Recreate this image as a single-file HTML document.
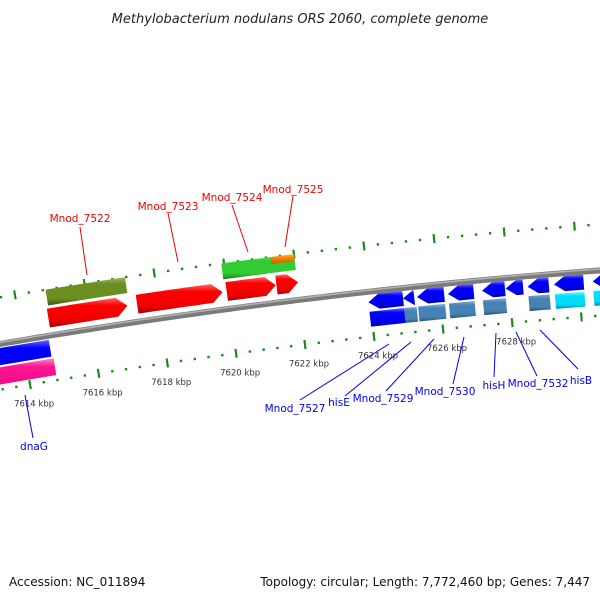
<!DOCTYPE html>
<html><head><meta charset="utf-8"><style>
html,body{margin:0;padding:0;background:#fff;}
svg{display:block;font-family:"DejaVu Sans","Liberation Sans",sans-serif;}
</style></head><body>
<svg id="map" width="600" height="600" viewBox="0 0 600 600">
<defs>
<linearGradient id="gred" x1="0" y1="0" x2="0" y2="1"><stop offset="0" stop-color="#ff6a6a"/><stop offset="0.25" stop-color="#ff0000"/><stop offset="0.75" stop-color="#f00000"/><stop offset="1" stop-color="#a00000"/></linearGradient>
<linearGradient id="golive" x1="0" y1="0" x2="0" y2="1"><stop offset="0" stop-color="#9ab85a"/><stop offset="0.25" stop-color="#6b8e23"/><stop offset="0.75" stop-color="#6b8e23"/><stop offset="1" stop-color="#3f5510"/></linearGradient>
<linearGradient id="ggreen" x1="0" y1="0" x2="0" y2="1"><stop offset="0" stop-color="#7ee87e"/><stop offset="0.25" stop-color="#33cc33"/><stop offset="0.75" stop-color="#33cc33"/><stop offset="1" stop-color="#1d7d1d"/></linearGradient>
<linearGradient id="gorange" x1="0" y1="0" x2="0" y2="1"><stop offset="0" stop-color="#ffb060"/><stop offset="0.3" stop-color="#ff8c00"/><stop offset="1" stop-color="#c06000"/></linearGradient>
<linearGradient id="gblue" x1="0" y1="0" x2="0" y2="1"><stop offset="0" stop-color="#6a6aff"/><stop offset="0.25" stop-color="#0000ff"/><stop offset="0.75" stop-color="#0000f0"/><stop offset="1" stop-color="#00009a"/></linearGradient>
<linearGradient id="gsteel" x1="0" y1="0" x2="0" y2="1"><stop offset="0" stop-color="#8ab0d4"/><stop offset="0.25" stop-color="#4682b4"/><stop offset="0.75" stop-color="#4682b4"/><stop offset="1" stop-color="#2a5070"/></linearGradient>
<linearGradient id="gcyan" x1="0" y1="0" x2="0" y2="1"><stop offset="0" stop-color="#8af4ff"/><stop offset="0.25" stop-color="#00e0ff"/><stop offset="0.75" stop-color="#00d8f8"/><stop offset="1" stop-color="#0090a8"/></linearGradient>
<linearGradient id="gpink" x1="0" y1="0" x2="0" y2="1"><stop offset="0" stop-color="#ff88c4"/><stop offset="0.25" stop-color="#ff1493"/><stop offset="0.75" stop-color="#f01088"/><stop offset="1" stop-color="#a00058"/></linearGradient>
</defs>
<text x="300" y="23" text-anchor="middle" font-size="13" font-style="italic" fill="#222">Methylobacterium nodulans ORS 2060, complete genome</text>
<g id="ticks"></g>
<g id="backbone"></g>
<g id="genes"></g>
<g id="tlabels"></g>
<g id="annot"></g>
<text x="9" y="586" font-size="12" fill="#111">Accession: NC_011894</text>
<text x="590" y="586" text-anchor="end" font-size="12" fill="#111">Topology: circular; Length: 7,772,460 bp; Genes: 7,447</text>
</svg>
<script>
// ---- data ----
const tickMajorKbp = [7612, 7614, 7616, 7618, 7620, 7622, 7624, 7626, 7628, 7630];
const tickLabels = ["7614 kbp","7616 kbp","7618 kbp","7620 kbp","7622 kbp","7624 kbp","7626 kbp","7628 kbp"];
const tickLabelKbp = [7614, 7616, 7618, 7620, 7622, 7624, 7626, 7628];
const geneStart = [7614.83, 7617.39, 7619.97, 7621.40, 7614.88, 7619.92, 7621.33,
  7623.95, 7624.95, 7625.35, 7626.24, 7627.22, 7627.90, 7628.53, 7629.29, 7630.40,
  7623.95, 7624.95, 7625.35, 7626.24, 7627.22, 7628.53, 7629.29, 7630.40,
  7612.0, 7612.0];
const geneEnd = [7617.11, 7619.85, 7621.38, 7622.02, 7617.16, 7622.00, 7622.00,
  7624.95, 7625.27, 7626.13, 7626.98, 7627.88, 7628.40, 7629.14, 7630.14, 7631.8,
  7624.95, 7625.31, 7626.13, 7626.98, 7627.88, 7629.14, 7630.14, 7631.8,
  7614.74, 7614.79];
const geneRow = ["fwd1","fwd1","fwd1","fwd1","fwd2","fwd2","fwd2top",
  "rev1","rev1","rev1","rev1","rev1","rev1","rev1","rev1","rev1",
  "rev2","rev2","rev2","rev2","rev2","rev2","rev2","rev2",
  "left1","left2"];
const geneShape = ["arrowR","arrowR","arrowR","arrowR","box","box","box",
  "arrowL","arrowL","arrowL","arrowL","arrowL","arrowL","arrowL","arrowL","arrowL",
  "box","box","box","box","box","box","box","box","box","box"];
const geneFill = ["gred","gred","gred","gred","golive","ggreen","gorange",
  "gblue","gblue","gblue","gblue","gblue","gblue","gblue","gblue","gblue",
  "gblue","gsteel","gsteel","gsteel","gsteel","gsteel","gcyan","gcyan",
  "gblue","gpink"];

// ---- geometry ----
const CX = 1050, CY = 6424, R = 6170, A0 = -0.1673, S = 0.00567;
const rows = {fwd1:[8,27], fwd2:[30,46], fwd2top:[39,46], rev1:[-18,-3], rev2:[-35,-20], left1:[-21,-4], left2:[-40,-23]};
function ang(k){ return A0 + (k-7614)*S; }
function P(k, off){ const a=ang(k), r=R+off; return [CX + r*Math.sin(a), CY - r*Math.cos(a)]; }
function arcPts(k1,k2,off){ const pts=[]; const n=Math.max(2,Math.ceil((k2-k1)*4)); for(let i=0;i<=n;i++){ pts.push(P(k1+(k2-k1)*i/n, off)); } return pts; }
const NS = "http://www.w3.org/2000/svg";
function mk(tag, attrs, parent){ const e=document.createElementNS(NS,tag); for(const k in attrs) e.setAttribute(k, attrs[k]); parent.appendChild(e); return e; }
function str(pts){ return pts.map(p=>p[0].toFixed(2)+","+p[1].toFixed(2)).join(" "); }

// ticks
const tg = document.getElementById("ticks");
for (let k = 7612; k <= 7631.2; k += 0.4) {
  const kk = Math.round(k*10)/10;
  const major = tickMajorKbp.some(m => Math.abs(m-kk) < 0.01);
  [-45, 46].forEach(off => {
    const h = major ? 4.5 : 1.2;
    const a = P(kk, off-h), b = P(kk, off+h);
    const l = mk("line", {x1:a[0],y1:a[1],x2:b[0],y2:b[1],stroke:"#1a8a1a","stroke-width":major?2.2:2.4}, tg);
    
    
  });
}
// tick labels
const lg = document.getElementById("tlabels");
tickLabelKbp.forEach((k,i) => {
  const p = P(k, -45);
  const t = mk("text", {x:(p[0]+4).toFixed(1), y:(p[1]+22).toFixed(1), "text-anchor":"middle", "font-size":"8.5", fill:"#333"}, lg);
  t.textContent = tickLabels[i];
  
  
});
// backbone
const bg = document.getElementById("backbone");
const bb = mk("polyline", {points:str(arcPts(7611,7633,0)), fill:"none", stroke:"#7a7a7a", "stroke-width":6}, bg);


const bh = mk("polyline", {points:str(arcPts(7611,7633,1.5)), fill:"none", stroke:"#b0b0b0", "stroke-width":1.6}, bg);


// genes
const gg = document.getElementById("genes");
geneStart.forEach((s,i) => {
  const e = geneEnd[i], [lo,hi] = rows[geneRow[i]], mid=(lo+hi)/2, shape=geneShape[i];
  const tip = 0.3;
  let pts;
  if (shape === "arrowR") {
    const b = Math.max(s, e-tip);
    pts = arcPts(s,b,hi).concat([P(e,mid)]).concat(arcPts(s,b,lo).reverse());
  } else if (shape === "arrowL") {
    const b = Math.min(e, s+tip);
    pts = [P(s,mid)].concat(arcPts(b,e,hi)).concat(arcPts(b,e,lo).reverse());
  } else {
    pts = arcPts(s,e,hi).concat(arcPts(s,e,lo).reverse());
  }
  const g = mk("polygon", {points:str(pts), fill:"url(#"+geneFill[i]+")"}, gg);
  
  
});
// annotations
const ag = document.getElementById("annot");
const ann = [
  ["Mnod_7522",80,222,"red",80,227,87,275],
  ["Mnod_7523",168,210,"red",168,213,178,262],
  ["Mnod_7524",232,201,"red",232,205,248,252],
  ["Mnod_7525",293,193,"red",293,196,285,247],
  ["dnaG",34,450,"blue",33,438,25,395],
  ["Mnod_7527",295,412,"blue",300,400,389,344],
  ["hisE",339,406,"blue",345,396,411,342],
  ["Mnod_7529",383,402,"blue",386,391,434,339],
  ["Mnod_7530",445,395,"blue",453,384,464,337],
  ["hisH",494,389,"blue",494,377,496,333],
  ["Mnod_7532",538,387,"blue",537,376,516,332],
  ["hisB",581,384,"blue",578,369,540,330]
];
ann.forEach(a => {
  const col = a[3]==="red" ? "#ee0000" : "#0000ee";
  const l = mk("line", {x1:a[4],y1:a[5],x2:a[6],y2:a[7],stroke:col,"stroke-width":1}, ag);
  
  
  const t = mk("text", {x:a[1], y:a[2], "text-anchor":"middle", "font-size":"10.5", fill:col}, ag);
  t.textContent = a[0];
  
  
});
</script>
</body></html>
